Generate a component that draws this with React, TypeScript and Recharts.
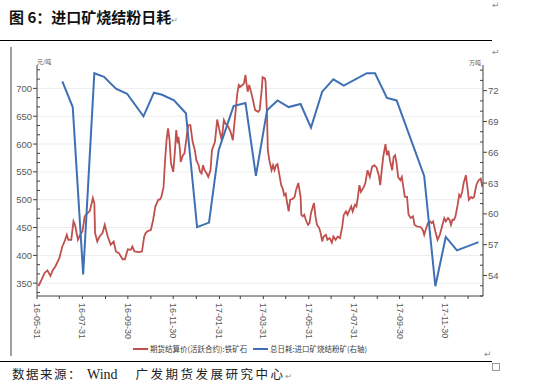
import React from "react"
import { LineChart, Line, XAxis, YAxis, CartesianGrid } from "recharts"

// 期货结算价(活跃合约):铁矿石，元/吨
const priceSeries: [string, number][] = [
  ["2016-06-02", 345], ["2016-06-05", 353], ["2016-06-10", 368], ["2016-06-14", 373], ["2016-06-18", 363], ["2016-06-21", 373],
  ["2016-06-25", 381], ["2016-06-30", 395], ["2016-07-04", 416], ["2016-07-07", 425], ["2016-07-10", 437], ["2016-07-12", 428],
  ["2016-07-16", 428], ["2016-07-19", 461], ["2016-07-21", 455], ["2016-07-25", 428], ["2016-07-28", 437], ["2016-07-31", 443],
  ["2016-08-03", 470], ["2016-08-07", 476], ["2016-08-10", 480], ["2016-08-14", 503], ["2016-08-16", 494], ["2016-08-17", 440],
  ["2016-08-20", 425], ["2016-08-23", 434], ["2016-08-27", 440], ["2016-08-30", 455], ["2016-09-03", 434], ["2016-09-07", 419],
  ["2016-09-11", 425], ["2016-09-14", 407], ["2016-09-18", 404], ["2016-09-23", 393], ["2016-09-26", 393], ["2016-09-30", 411],
  ["2016-10-04", 410], ["2016-10-06", 416], ["2016-10-09", 407], ["2016-10-15", 406], ["2016-10-19", 407], ["2016-10-22", 434],
  ["2016-10-24", 440], ["2016-10-26", 443], ["2016-10-31", 446], ["2016-11-03", 464], ["2016-11-06", 488], ["2016-11-10", 500],
  ["2016-11-12", 500], ["2016-11-14", 505], ["2016-11-17", 523], ["2016-11-19", 571], ["2016-11-21", 607], ["2016-11-23", 628],
  ["2016-11-25", 607], ["2016-11-27", 565], ["2016-11-30", 550], ["2016-12-02", 583], ["2016-12-04", 625], ["2016-12-06", 601],
  ["2016-12-07", 613], ["2016-12-09", 589], ["2016-12-10", 568], ["2016-12-13", 580], ["2016-12-15", 583], ["2016-12-18", 613],
  ["2016-12-20", 634], ["2016-12-23", 634], ["2016-12-26", 604], ["2016-12-29", 589], ["2016-12-31", 571], ["2017-01-03", 562],
  ["2017-01-05", 550], ["2017-01-07", 547], ["2017-01-09", 562], ["2017-01-11", 553], ["2017-01-14", 547], ["2017-01-16", 541],
  ["2017-01-19", 553], ["2017-01-21", 589], ["2017-01-25", 604], ["2017-01-28", 644], ["2017-01-31", 625], ["2017-02-03", 607],
  ["2017-02-06", 643], ["2017-02-08", 637], ["2017-02-12", 631], ["2017-02-15", 622], ["2017-02-18", 607], ["2017-02-21", 649],
  ["2017-02-24", 691], ["2017-02-26", 706], ["2017-02-28", 703], ["2017-03-03", 706], ["2017-03-05", 709], ["2017-03-07", 724],
  ["2017-03-08", 712], ["2017-03-10", 694], ["2017-03-12", 706], ["2017-03-15", 691], ["2017-03-17", 679], ["2017-03-20", 661],
  ["2017-03-24", 658], ["2017-03-26", 661], ["2017-03-29", 700], ["2017-03-30", 720], ["2017-04-02", 718], ["2017-04-03", 712],
  ["2017-04-05", 649], ["2017-04-06", 589], ["2017-04-08", 571], ["2017-04-11", 553], ["2017-04-13", 562], ["2017-04-15", 553],
  ["2017-04-17", 562], ["2017-04-19", 564], ["2017-04-22", 541], ["2017-04-24", 526], ["2017-04-26", 520], ["2017-04-28", 508],
  ["2017-04-30", 511], ["2017-05-02", 494], ["2017-05-04", 479], ["2017-05-06", 500], ["2017-05-09", 501], ["2017-05-12", 505],
  ["2017-05-14", 518], ["2017-05-17", 530], ["2017-05-20", 505], ["2017-05-21", 473], ["2017-05-23", 470], ["2017-05-25", 473],
  ["2017-05-27", 464], ["2017-05-30", 455], ["2017-06-01", 458], ["2017-06-03", 476], ["2017-06-07", 494], ["2017-06-09", 470],
  ["2017-06-11", 455], ["2017-06-14", 449], ["2017-06-16", 440], ["2017-06-18", 425], ["2017-06-20", 434], ["2017-06-23", 437],
  ["2017-06-25", 428], ["2017-06-28", 431], ["2017-07-01", 423], ["2017-07-03", 434], ["2017-07-06", 428], ["2017-07-09", 434],
  ["2017-07-12", 431], ["2017-07-15", 452], ["2017-07-17", 473], ["2017-07-20", 479], ["2017-07-22", 473], ["2017-07-25", 482],
  ["2017-07-27", 488], ["2017-07-29", 479], ["2017-08-01", 491], ["2017-08-03", 488], ["2017-08-05", 505], ["2017-08-07", 526],
  ["2017-08-09", 514], ["2017-08-13", 523], ["2017-08-15", 530], ["2017-08-16", 538], ["2017-08-18", 553], ["2017-08-21", 541],
  ["2017-08-24", 559], ["2017-08-27", 562], ["2017-08-30", 558], ["2017-09-02", 544], ["2017-09-04", 526], ["2017-09-06", 553],
  ["2017-09-08", 577], ["2017-09-11", 600], ["2017-09-13", 580], ["2017-09-15", 588], ["2017-09-17", 571], ["2017-09-20", 553],
  ["2017-09-22", 577], ["2017-09-24", 580], ["2017-09-26", 565], ["2017-09-28", 541], ["2017-10-01", 535], ["2017-10-03", 541],
  ["2017-10-05", 523], ["2017-10-07", 505], ["2017-10-10", 505], ["2017-10-12", 473], ["2017-10-15", 467], ["2017-10-18", 470],
  ["2017-10-20", 455], ["2017-10-23", 452], ["2017-10-28", 451], ["2017-10-31", 446], ["2017-11-02", 437], ["2017-11-04", 446],
  ["2017-11-07", 458], ["2017-11-10", 461], ["2017-11-12", 458], ["2017-11-14", 461], ["2017-11-17", 443], ["2017-11-20", 428],
  ["2017-11-23", 437], ["2017-11-26", 452], ["2017-11-29", 467], ["2017-12-01", 461], ["2017-12-04", 467], ["2017-12-06", 464],
  ["2017-12-08", 455], ["2017-12-10", 464], ["2017-12-12", 464], ["2017-12-14", 470], ["2017-12-17", 491], ["2017-12-19", 509],
  ["2017-12-21", 505], ["2017-12-23", 514], ["2017-12-25", 530], ["2017-12-28", 544], ["2017-12-30", 523], ["2018-01-01", 500],
  ["2018-01-04", 505], ["2018-01-06", 503], ["2018-01-08", 505], ["2018-01-11", 526], ["2018-01-14", 535], ["2018-01-17", 538],
  ["2018-01-19", 523],
]

// 总日耗:进口矿烧结粉矿，万吨（右轴）
const consumptionSeries: [string, number][] = [
  ["2016-07-04", 72.9], ["2016-07-18", 70.4], ["2016-08-01", 54.1], ["2016-08-16", 73.7], ["2016-08-29", 73.35],
  ["2016-09-14", 72.2], ["2016-09-29", 71.7], ["2016-10-21", 69.5], ["2016-11-04", 71.8], ["2016-11-15", 71.6],
  ["2016-12-01", 71.05], ["2016-12-17", 69.8], ["2017-01-01", 58.7], ["2017-01-17", 59.15], ["2017-01-30", 66.2],
  ["2017-02-19", 70.5], ["2017-03-07", 70.8], ["2017-03-21", 63.7], ["2017-04-05", 70.1], ["2017-04-19", 71.05],
  ["2017-05-04", 70.4], ["2017-05-20", 70.7], ["2017-06-03", 68.4], ["2017-06-18", 71.9], ["2017-07-03", 73.1],
  ["2017-07-17", 72.5], ["2017-08-17", 73.7], ["2017-08-28", 73.7], ["2017-09-13", 71.3], ["2017-09-26", 71.05],
  ["2017-11-02", 63.7], ["2017-11-17", 52.95], ["2017-12-01", 57.75], ["2017-12-16", 56.45], ["2018-01-14", 57.25],
]

const monthEnds = [
  "2016-05-31", "2016-06-30", "2016-07-31", "2016-08-31", "2016-09-30", "2016-10-31", "2016-11-30",
  "2016-12-31", "2017-01-31", "2017-02-28", "2017-03-31", "2017-04-30", "2017-05-31", "2017-06-30",
  "2017-07-31", "2017-08-31", "2017-09-30", "2017-10-31", "2017-11-30", "2017-12-31",
]
const leftAxisLabels = [350, 400, 450, 500, 550, 600, 650, 700]
const rightAxisLabels = [54, 57, 60, 63, 66, 69, 72]

const START = Date.UTC(2016, 4, 31)
const dayOf = (s: string) => {
  const [y, m, d] = s.split("-").map(Number)
  return Math.round((Date.UTC(y, m - 1, d) - START) / 86400000)
}

const priceData = priceSeries.map(([date, value]) => ({ day: dayOf(date), value }))
const consumptionData = consumptionSeries.map(([date, value]) => ({ day: dayOf(date), value }))

const xTicks = monthEnds.map(dayOf)
const xLabels = new Map(monthEnds.map((d, i) => [dayOf(d), i % 2 === 0 ? d.slice(2) : ""]))

// minor ticks: thirds of the major step on the left, one unit on the right
const leftTicks = Array.from({ length: 25 }, (_, i) => 1000 / 3 + (i * 50) / 3)
const rightTicks = Array.from({ length: 23 }, (_, i) => 52 + i)
const isLeftMajor = (v: number) => leftAxisLabels.some((l) => Math.abs(l - v) < 0.01)
const isRightMajor = (v: number) => rightAxisLabels.includes(v)

const RED = "#C0504D"
const BLUE = "#3F70B4"
const AXIS = "#404040"
const LABEL = "#595959"
const NUM_FONT = "'Liberation Sans', Arial, sans-serif"
const CJK_FONT = "'Noto Sans CJK SC', sans-serif"

function LeftTick({ x, y, payload }: any) {
  const major = isLeftMajor(payload.value)
  return (
    <g>
      <line x1={major ? x - 4 : x} x2={major ? x : x + 3} y1={y} y2={y} stroke={AXIS} strokeWidth={1} />
      {major && (
        <text x={x - 5} y={y} textAnchor="end" dominantBaseline="central" fontSize={9.5} fill={LABEL} fontFamily={NUM_FONT}>
          {Math.round(payload.value)}
        </text>
      )}
    </g>
  )
}

function RightTick({ x, y, payload }: any) {
  const major = isRightMajor(payload.value)
  return (
    <g>
      <line x1={major ? x : x - 3} x2={major ? x + 4 : x} y1={y} y2={y} stroke={AXIS} strokeWidth={1} />
      {major && (
        <text x={x + 5} y={y} textAnchor="start" dominantBaseline="central" fontSize={9.5} fill={LABEL} fontFamily={NUM_FONT}>
          {payload.value}
        </text>
      )}
    </g>
  )
}

function DateTick({ x, y, payload }: any) {
  const label = xLabels.get(payload.value) ?? ""
  return (
    <g>
      <line x1={x} x2={x} y1={y} y2={y + 3} stroke={AXIS} strokeWidth={1} />
      {label && (
        <text
          transform={`translate(${x},${y + 7}) rotate(90)`}
          textAnchor="start"
          dominantBaseline="central"
          fontSize={9}
          fill={LABEL}
          fontFamily={NUM_FONT}
        >
          {label}
        </text>
      )}
    </g>
  )
}

const mark: React.CSSProperties = { position: "absolute", fontSize: 9, color: "#8c8c8c", fontFamily: "'DejaVu Sans', sans-serif", lineHeight: 1 }

export default function App() {
  return (
    <div style={{ position: "absolute", left: 0, top: 0, width: 542, height: 390, background: "#fff", overflow: "hidden" }}>
      {/* heading */}
      <div style={{ position: "absolute", left: 9, top: 9, fontFamily: CJK_FONT, fontWeight: 700, fontSize: 15, lineHeight: 1, color: "#111", whiteSpace: "nowrap" }}>
        图 6：进口矿烧结粉日耗<span style={{ ...mark, position: "static", fontWeight: 400, fontSize: 8 }}>↵</span>
      </div>
      <div style={{ ...mark, left: 492, top: 1 }}>↵</div>
      <div style={{ position: "absolute", left: 0, top: 40, width: 492, height: 1, background: "#000" }} />
      <div style={{ ...mark, left: 492, top: 48 }}>↵</div>
      <div style={{ position: "absolute", left: 10, top: 47, width: 2, height: 309, background: "#a0a0a0" }} />

      {/* axis units */}
      <div style={{ position: "absolute", left: 37, top: 59, fontSize: 6, fontFamily: CJK_FONT, color: LABEL, lineHeight: 1 }}>元/吨</div>
      <div style={{ position: "absolute", left: 469, top: 60, fontSize: 6, fontFamily: CJK_FONT, color: LABEL, lineHeight: 1 }}>万吨</div>

      <div style={{ position: "absolute", left: 0, top: 52 }}>
        <LineChart width={522} height={300} margin={{ top: 13, right: 6, bottom: 11, left: 0 }}>
          <CartesianGrid yAxisId="left" vertical={false} horizontalValues={leftAxisLabels} stroke="#ececec" strokeWidth={1} />
          <XAxis
            dataKey="day"
            type="number"
            domain={[0, 599]}
            ticks={xTicks}
            interval={0}
            allowDataOverflow
            height={45}
            tickSize={0}
            tickMargin={0}
            tickLine={false}
            tick={<DateTick />}
            axisLine={{ stroke: AXIS }}
          />
          <YAxis
            yAxisId="left"
            orientation="left"
            type="number"
            domain={[327, 742]}
            ticks={leftTicks}
            interval={0}
            allowDataOverflow
            width={37}
            tickSize={0}
            tickMargin={0}
            tickLine={false}
            tick={<LeftTick />}
            axisLine={{ stroke: AXIS }}
          />
          <YAxis
            yAxisId="right"
            orientation="right"
            type="number"
            domain={[52, 74.5]}
            ticks={rightTicks}
            interval={0}
            allowDataOverflow
            width={33}
            tickSize={0}
            tickMargin={0}
            tickLine={false}
            tick={<RightTick />}
            axisLine={{ stroke: AXIS }}
          />
          <Line
            yAxisId="left"
            data={priceData}
            dataKey="value"
            type="linear"
            stroke={RED}
            strokeWidth={1.8}
            dot={false}
            isAnimationActive={false}
          />
          <Line
            yAxisId="right"
            data={consumptionData}
            dataKey="value"
            type="linear"
            stroke={BLUE}
            strokeWidth={2}
            dot={false}
            isAnimationActive={false}
          />
        </LineChart>
      </div>

      {/* legend */}
      <div style={{ position: "absolute", left: 133, top: 348, width: 15, height: 2, background: RED }} />
      <div style={{ position: "absolute", left: 150, top: 345, fontSize: 7.5, fontFamily: CJK_FONT, color: AXIS, lineHeight: 1, whiteSpace: "nowrap" }}>
        期货结算价(活跃合约):铁矿石
      </div>
      <div style={{ position: "absolute", left: 253, top: 348, width: 15, height: 2, background: BLUE }} />
      <div style={{ position: "absolute", left: 270, top: 345, fontSize: 7.5, fontFamily: CJK_FONT, color: AXIS, lineHeight: 1, whiteSpace: "nowrap" }}>
        总日耗:进口矿烧结粉矿(右轴)
      </div>
      <div style={{ ...mark, left: 484, top: 350 }}>↵</div>

      <div style={{ position: "absolute", left: 0, top: 361, width: 492, height: 1, background: "#000" }} />
      <div style={{ position: "absolute", left: 492, top: 363, width: 6, height: 6, border: "1px solid #9a9a9a" }} />

      {/* source line */}
      <div style={{ position: "absolute", left: 12, top: 368, fontFamily: CJK_FONT, fontSize: 12.5, lineHeight: 1, color: "#222", whiteSpace: "nowrap" }}>
        <span style={{ letterSpacing: 1.5 }}>数据来源：</span>
        <span style={{ fontFamily: "'Liberation Serif', serif", fontSize: 14, marginLeft: 5 }}>Wind</span>
        <span style={{ marginLeft: 18, letterSpacing: 2.5 }}>广发期货发展研究中心</span>
        <span style={{ ...mark, position: "static", fontSize: 8 }}>↵</span>
      </div>
    </div>
  )
}
